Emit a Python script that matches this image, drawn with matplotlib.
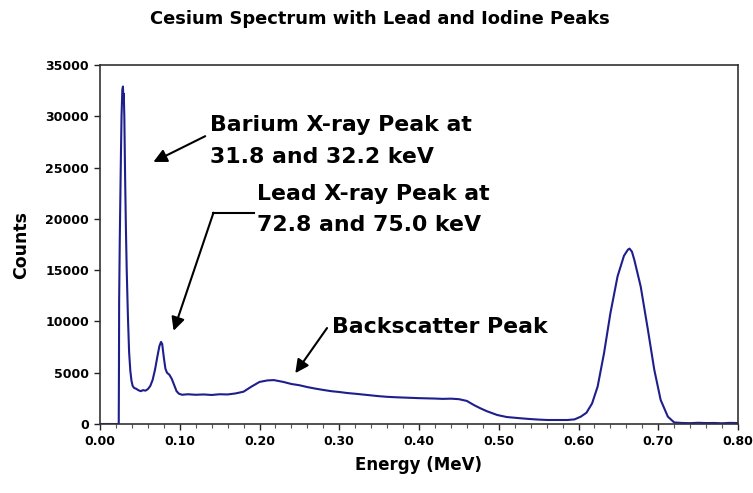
import matplotlib
matplotlib.use("Agg")
import matplotlib.pyplot as plt
from matplotlib.ticker import MultipleLocator, FormatStrFormatter

# ---- data ----
energy_mev = [
    0.000, 0.0235, 0.0238, 0.0240, 0.0248, 0.0255, 0.0262, 0.0270, 0.0280, 0.0288,
    0.0293, 0.0298, 0.0305, 0.0315, 0.0325, 0.0335, 0.0350, 0.0365, 0.0380, 0.0395,
    0.0410, 0.0430, 0.0450, 0.0480, 0.0510, 0.0540, 0.0570, 0.0600, 0.0630, 0.0660,
    0.0690, 0.0720, 0.0745, 0.0765, 0.0780, 0.0800, 0.0820, 0.0840, 0.0870, 0.0900,
    0.0930, 0.0960, 0.0990, 0.1030, 0.110, 0.120, 0.130, 0.140, 0.150, 0.160,
    0.170, 0.180, 0.190, 0.200, 0.210, 0.218, 0.230, 0.240, 0.250, 0.260,
    0.270, 0.280, 0.290, 0.300, 0.310, 0.320, 0.330, 0.340, 0.350, 0.360,
    0.370, 0.380, 0.390, 0.400, 0.410, 0.420, 0.430, 0.440, 0.450, 0.460,
    0.465, 0.470, 0.477, 0.485, 0.498, 0.510, 0.527, 0.540, 0.550, 0.561,
    0.575, 0.586, 0.595, 0.603, 0.610, 0.617, 0.624, 0.632, 0.640, 0.649,
    0.657, 0.662, 0.664, 0.667, 0.670, 0.678, 0.687, 0.695, 0.703, 0.712,
    0.720, 0.730, 0.740, 0.750, 0.760, 0.770, 0.780, 0.790, 0.800,
]
counts = [
    0, 0, 6000, 12000, 18000, 22000, 26000, 30000, 32600, 32900,
    31500, 32200, 30000, 24000, 19000, 15000, 10500, 7000, 5200, 4200,
    3700, 3500, 3450, 3300, 3200, 3300, 3250, 3400, 3700, 4300,
    5300, 6600, 7600, 8000, 7800, 6500, 5400, 5000, 4800, 4400,
    3800, 3200, 2950, 2850, 2900, 2850, 2880, 2830, 2900, 2880,
    2980, 3150, 3650, 4100, 4250, 4280, 4100, 3900, 3780, 3600,
    3450, 3320, 3200, 3120, 3020, 2950, 2870, 2790, 2710, 2650,
    2610, 2580, 2550, 2520, 2500, 2480, 2450, 2470, 2420, 2250,
    2020, 1800, 1530, 1250, 880, 680, 560, 480, 430, 390,
    390, 390, 450, 720, 1100, 2000, 3650, 6900, 10800, 14400,
    16400, 17000, 17100, 16800, 16000, 13400, 9200, 5300, 2350, 720,
    150, 100, 80, 120, 90, 100, 70, 110, 90,
]

title = "Cesium Spectrum with Lead and Iodine Peaks"
x_label = "Energy (MeV)"
y_label = "Counts"
x_ticks = [0.0, 0.1, 0.2, 0.3, 0.4, 0.5, 0.6, 0.7, 0.8]
y_ticks = [0, 5000, 10000, 15000, 20000, 25000, 30000, 35000]

W, H = 753, 493
FONT = "DejaVu Sans"

def fx(px):
    return px / W

def fy(py):
    return 1 - py / H

fig = plt.figure(figsize=(W / 100, H / 100), dpi=100)
fig.patch.set_facecolor("white")
ax = fig.add_axes([fx(100), fy(424), (738 - 100) / W, (424 - 65) / H])

ax.plot(energy_mev, counts, color="#1e1e8c", lw=1.5, solid_joinstyle="round")

ax.set_xlim(0, 0.8)
ax.set_ylim(0, 35000)
ax.set_xticks(x_ticks)
ax.set_yticks(y_ticks)
ax.xaxis.set_minor_locator(MultipleLocator(0.02))
ax.xaxis.set_major_formatter(FormatStrFormatter("%.2f"))
ax.yaxis.set_major_formatter(FormatStrFormatter("%d"))
ax.tick_params(axis="both", which="major", direction="out", length=4, width=1,
               labelsize=9, colors="#222222", pad=4)
ax.tick_params(axis="x", which="minor", direction="out", length=3, width=0.8, colors="#555555")
for lab in ax.get_xticklabels() + ax.get_yticklabels():
    lab.set_fontweight("bold")
    lab.set_family(FONT)
    lab.set_color("black")
for s in ax.spines.values():
    s.set_color("#333333")
    s.set_linewidth(1.2)

fig.text(fx(380), fy(24), title, ha="center", va="baseline",
         fontsize=12.9, fontweight="bold", family=FONT)
fig.text(fx(419), fy(465), x_label, ha="center", va="center",
         fontsize=12, fontweight="bold", family=FONT)
fig.text(fx(21), fy(245), y_label, ha="center", va="center", rotation=90,
         fontsize=12.5, fontweight="bold", family=FONT)

ann_kw = dict(fontsize=15.8, fontweight="bold", family=FONT, color="black",
              ha="left", va="baseline")
fig.text(fx(210), fy(131), "Barium X-ray Peak at", **ann_kw)
fig.text(fx(210), fy(163), "31.8 and 32.2 keV", **ann_kw)
fig.text(fx(257), fy(200), "Lead X-ray Peak at", **ann_kw)
fig.text(fx(257), fy(231), "72.8 and 75.0 keV", **ann_kw)
fig.text(fx(332), fy(333), "Backscatter Peak", **ann_kw)

arrow = dict(arrowstyle="-|>", color="black", lw=1.5, mutation_scale=20,
             shrinkA=0, shrinkB=0)
# Barium arrow
ax.annotate("", xy=(0.0669, 25550), xytext=(0.1319, 28060), arrowprops=arrow)
# Lead arrow (elbow)
ax.plot([0.1925, 0.1423], [20600, 20600], color="black", lw=1.5)
ax.annotate("", xy=(0.0923, 9090), xytext=(0.1423, 20600), arrowprops=arrow)
# Backscatter arrow
ax.annotate("", xy=(0.2449, 4957), xytext=(0.2847, 9356), arrowprops=arrow)

fig.savefig("out.png", dpi=100, facecolor="white")
